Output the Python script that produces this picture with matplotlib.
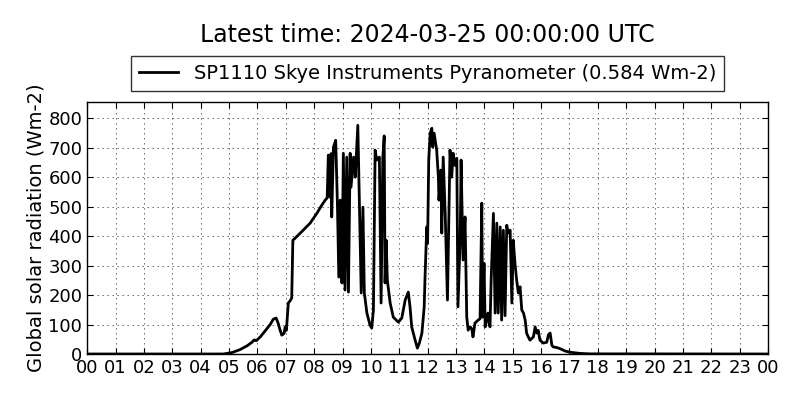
import matplotlib
matplotlib.use("Agg")
import matplotlib.pyplot as plt

# hours since 00 UTC and global radiation (Wm-2)
hours = [
    0.0, 4.8, 5.11, 5.39, 5.64, 5.81, 5.89, 5.96, 6.10, 6.27, 6.45, 6.56, 6.66,
    6.73, 6.80, 6.86, 6.94, 6.98, 7.02, 7.04, 7.09, 7.15, 7.21, 7.25, 7.33,
    7.51, 7.86, 8.10, 8.27, 8.39, 8.46, 8.50, 8.53, 8.56, 8.60, 8.62, 8.68,
    8.76, 8.82, 8.87, 8.92, 8.98, 9.03, 9.09, 9.15, 9.21, 9.27, 9.30, 9.39,
    9.45, 9.54, 9.60, 9.66, 9.72, 9.77, 9.86, 9.97, 10.03, 10.09, 10.15,
    10.21, 10.30, 10.36, 10.42, 10.47, 10.50, 10.54, 10.58, 10.68, 10.79,
    10.97, 11.09, 11.21, 11.32, 11.38, 11.44, 11.56, 11.64, 11.71, 11.80,
    11.88, 11.91, 11.97, 12.00, 12.04, 12.09, 12.15, 12.18, 12.23, 12.32,
    12.38, 12.40, 12.47, 12.50, 12.55, 12.62, 12.70, 12.79, 12.85, 12.90,
    12.97, 13.03, 13.07, 13.15, 13.18, 13.25, 13.32, 13.38, 13.43, 13.50,
    13.56, 13.60, 13.67, 13.78, 13.85, 13.91, 13.94, 13.99, 14.03, 14.09,
    14.13, 14.20, 14.24, 14.32, 14.38, 14.44, 14.49, 14.56, 14.61, 14.67,
    14.73, 14.79, 14.84, 14.91, 14.97, 15.02, 15.08, 15.14, 15.20, 15.26,
    15.32, 15.38, 15.44, 15.49, 15.55, 15.61, 15.73, 15.79, 15.85, 15.90,
    15.96, 16.08, 16.20, 16.26, 16.32, 16.38, 16.43, 16.55, 16.67, 16.85,
    17.02, 17.37, 17.72, 24.0,
]
radiation = [
    0, 0, 5, 15, 28, 40, 48, 45, 58, 78, 100, 118, 122,
    105, 81, 64, 70, 92, 80, 105, 173, 180, 190, 386, 393,
    410, 444, 478, 505, 522, 530, 675, 560, 532, 680, 465, 702,
    725, 512, 261, 522, 241, 681, 217, 668, 210, 681, 566, 668,
    600, 776, 488, 207, 498, 207, 139, 98, 88, 149, 692,
    658, 668, 173, 664, 740, 241, 386, 251, 173, 125,
    108, 122, 183, 210, 160, 92, 47, 20, 37, 71,
    160, 261, 431, 376, 658, 749, 766, 702, 749, 692,
    600, 522, 624, 410, 668, 478, 183, 692, 600, 681,
    640, 664, 160, 397, 658, 319, 465, 125, 81, 92,
    85, 58, 105, 115, 120, 512, 125, 308, 92, 115,
    139, 92, 250, 477, 139, 444, 139, 431, 115, 420,
    130, 437, 410, 420, 173, 386, 308, 250, 207, 228,
    149, 139, 115, 71, 58, 47, 58, 92, 71, 80,
    47, 37, 40, 65, 71, 30, 24, 22, 18, 10,
    6, 2, 0.5, 0,
]

tick_hours = list(range(25))
tick_labels = [f"{h % 24:02d}" for h in tick_hours]

fig = plt.figure(figsize=(8, 4), dpi=100)
ax = fig.add_axes([0.109, 0.115, 0.851, 0.63])

ax.plot(hours, radiation, color="black", linewidth=2,
        label="SP1110 Skye Instruments Pyranometer (0.584 Wm-2)")

ax.set_xlim(0, 24)
ax.set_ylim(0, 855)
ax.set_xticks(tick_hours)
ax.set_xticklabels(tick_labels)
ax.set_yticks(range(0, 900, 100))
ax.tick_params(direction="in", top=True, right=True, labelsize=13, length=4)
ax.grid(True, color="#222222", linestyle=(0, (2, 5.2)), linewidth=0.5)
for sp in ax.spines.values():
    sp.set_linewidth(1)
ax.set_ylabel("Global solar radiation (Wm-2)", fontsize=14, labelpad=2)

leg = ax.legend(loc="lower center", bbox_to_anchor=(0.5, 1.045), fontsize=14,
                fancybox=False, edgecolor="black", borderaxespad=0)
leg.get_frame().set_linewidth(1)

fig.text(0.534, 0.912, "Latest time: 2024-03-25 00:00:00 UTC",
         ha="center", va="center", fontsize=17)

fig.savefig("out.png", dpi=100, facecolor="white")
